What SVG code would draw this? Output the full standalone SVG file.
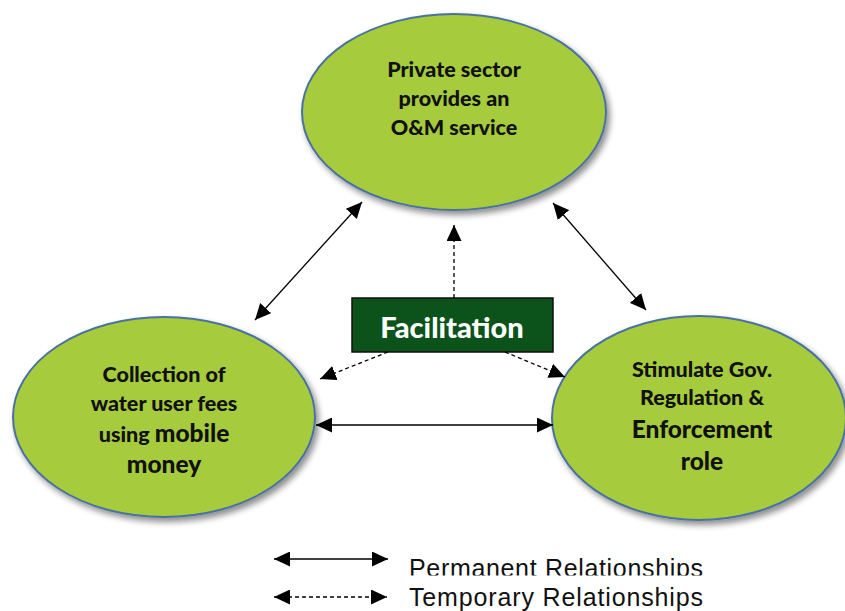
<svg xmlns="http://www.w3.org/2000/svg" width="845" height="611" viewBox="0 0 845 611">
<style>
.node ellipse{fill:#a6cb3c;stroke:#4a72a0;stroke-width:2;filter:url(#sh)}
.t{font-family:Lato,"Open Sans","Liberation Sans",sans-serif;font-weight:900;fill:#111;text-anchor:middle}
.s{font-size:21.5px}
.b{font-size:24.5px}
.conn line{stroke:#000;stroke-width:1.3}
.dash{stroke-dasharray:4 3}
.leg{font-family:"Liberation Sans",Arial,sans-serif;font-size:25px;fill:#111}
</style>
<defs>
<filter id="sh" x="-10%" y="-10%" width="125%" height="125%">
<feGaussianBlur in="SourceAlpha" stdDeviation="3"/>
<feOffset dx="3" dy="4" result="o"/>
<feComponentTransfer><feFuncA type="linear" slope="0.45"/></feComponentTransfer>
<feMerge><feMergeNode/><feMergeNode in="SourceGraphic"/></feMerge>
</filter>
<marker id="ah" viewBox="0 0 16 15" refX="16" refY="7.5" markerWidth="16" markerHeight="15" markerUnits="userSpaceOnUse" orient="auto-start-reverse">
<path d="M0,0 L16,7.5 L0,15 z" fill="#000"/>
</marker>
<clipPath id="cp"><rect x="400" y="540" width="320" height="35.5"/></clipPath>
</defs>
<rect width="845" height="611" fill="#fff"/>
<g id="top" class="node">
<ellipse cx="454" cy="112" rx="152" ry="98"/>
<text class="t s" x="454" y="77">Private sector</text>
<text class="t s" x="454" y="106">provides an</text>
<text class="t s" x="454" y="135">O&amp;M service</text>
</g>
<g id="left" class="node">
<ellipse cx="164" cy="417" rx="151" ry="100"/>
<text class="t s" x="164" y="382">Collection of</text>
<text class="t s" x="164" y="411">water user fees</text>
<text class="t s" x="164" y="442">using <tspan class="b">mobile</tspan></text>
<text class="t b" x="164" y="473">money</text>
</g>
<g id="right" class="node">
<ellipse cx="699" cy="418" rx="147" ry="102"/>
<text class="t s" x="702" y="377">Stimulate Gov.</text>
<text class="t s" x="702" y="405">Regulation &amp;</text>
<text class="t b" x="702" y="438">Enforcement</text>
<text class="t b" x="702" y="470">role</text>
</g>
<g id="facilitation">
<rect x="352" y="298" width="201" height="54" fill="#0b521b" stroke="#111" stroke-width="1.5"/>
<text x="452" y="338" font-family="Lato,'Open Sans',sans-serif" font-weight="900" font-size="29" fill="#fff" text-anchor="middle">Facilitation</text>
</g>
<g id="connectors" class="conn">
<line x1="255" y1="320" x2="362" y2="202" marker-start="url(#ah)" marker-end="url(#ah)"/>
<line x1="553" y1="203" x2="646" y2="310" marker-start="url(#ah)" marker-end="url(#ah)"/>
<line x1="316" y1="425" x2="553" y2="425" marker-start="url(#ah)" marker-end="url(#ah)"/>
<line class="dash" x1="454" y1="298" x2="454" y2="225" marker-end="url(#ah)"/>
<line class="dash" x1="388" y1="352" x2="320" y2="379" marker-end="url(#ah)"/>
<line class="dash" x1="505" y1="352" x2="565" y2="377" marker-end="url(#ah)"/>
</g>
<g id="legend" class="conn">
<line x1="274" y1="559" x2="388" y2="559" marker-start="url(#ah)" marker-end="url(#ah)"/>
<line class="dash" x1="274" y1="597" x2="387" y2="597" marker-start="url(#ah)" marker-end="url(#ah)"/>
<text class="leg" x="409" y="577" textLength="294" clip-path="url(#cp)">Permanent Relationships</text>
<text class="leg" x="409" y="606" textLength="294">Temporary Relationships</text>
</g>
</svg>
